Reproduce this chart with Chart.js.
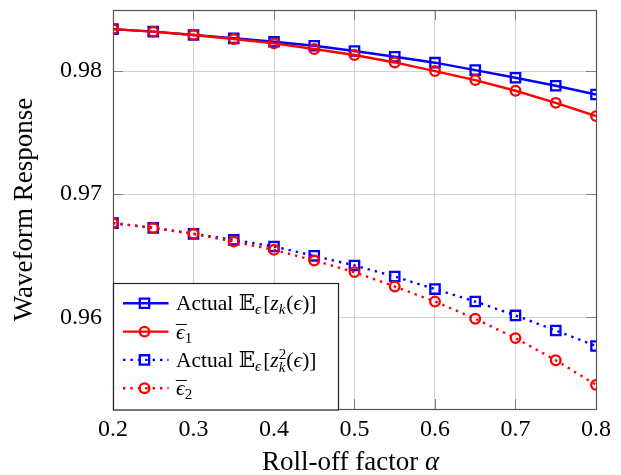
<!DOCTYPE html>
<html><head><meta charset="utf-8">
<script src="https://cdn.jsdelivr.net/npm/chart.js@4.4.1/dist/chart.umd.min.js"></script>
<style>html,body{margin:0;padding:0;background:#fff;}#wrap{width:621px;height:475px;}</style>
</head><body><div id="wrap"><canvas id="c" width="621" height="475"></canvas></div>
<script>
// ---- data ----
const alpha    = [0.2,0.25,0.3,0.35,0.4,0.45,0.5,0.55,0.6,0.65,0.7,0.75,0.8];
const actualZ  = [0.98341,0.98320,0.98293,0.98266,0.98238,0.98206,0.98163,0.98116,0.98068,0.98008,0.97946,0.97881,0.97810];
const epsBar1  = [0.98341,0.98320,0.98293,0.98260,0.98225,0.98179,0.98130,0.98070,0.98000,0.97927,0.97840,0.97742,0.97634];
const actualZ2 = [0.96765,0.96726,0.96678,0.96629,0.96575,0.96499,0.96421,0.96331,0.96229,0.96128,0.96015,0.95893,0.95767];
const epsBar2  = [0.96765,0.96726,0.96678,0.96615,0.96548,0.96461,0.96367,0.96250,0.96128,0.95988,0.95831,0.95651,0.95451];
const xTicks = [0.2,0.3,0.4,0.5,0.6,0.7,0.8];
const yTicks = [0.96,0.97,0.98];
const seriesNames = ['Actual E[z_k]','eps1','Actual E[z_k^2]','eps2'];
const xTitle = ['Roll-off factor ','α'];
const yTitle = 'Waveform Response';

// legend text pieces (math formatting)
const legendRuns = [
  [{t:'Actual '},{t:'𝔼'},{t:'ϵ',it:1,s:0.7,dy:4},{t:'[',dx:2},{t:'z',it:1},{t:'k',it:1,s:0.7,dy:4},{t:'(',dx:1},{t:'ϵ',it:1},{t:')]'}],
  [{t:'ϵ',it:1,bar:1},{t:'1',s:0.7,dy:4}],
  [{t:'Actual '},{t:'𝔼'},{t:'ϵ',it:1,s:0.7,dy:4},{t:'[',dx:2},{t:'z',it:1},{t:'2',s:0.7,dy:-8,stay:1},{t:'k',it:1,s:0.7,dy:5},{t:'(',dx:1},{t:'ϵ',it:1},{t:')]'}],
  [{t:'ϵ',it:1,bar:1},{t:'2',s:0.7,dy:4}]
];

const SERIF = "'Liberation Serif','Times New Roman',serif";
const MATH = "'Liberation Serif','DejaVu Serif','DejaVu Sans',serif";
const BLUE = '#0000ff', RED = '#ff0000';
const DOT = [2.4,5];

function drawRuns(ctx, runs, x, y, base){
  let cx = x;
  for (const r of runs){
    const size = base*(r.s||1);
    ctx.font = (r.it?'italic ':'') + size + 'px ' + MATH;
    const w = ctx.measureText(r.t).width;
    const px = cx + (r.dx||0);
    ctx.fillText(r.t, px, y + (r.dy||0));
    if(r.bar){
      ctx.font = size + 'px ' + MATH;
      const mw = ctx.measureText('¯').width;
      ctx.fillText('¯', px + w/2 - mw/2 + 1, y + 1);
    }
    if(!r.stay) cx = px + w;
  }
  return cx - x;
}

const datasets = [
  {label:seriesNames[0], data:alpha.map((a,i)=>({x:a,y:actualZ[i]})),  borderColor:BLUE, pointStyle:'rect',   pointRadius:6.6, borderDash:[], order:3},
  {label:seriesNames[1], data:alpha.map((a,i)=>({x:a,y:epsBar1[i]})),  borderColor:RED,  pointStyle:'circle', pointRadius:4.8, borderDash:[], order:2},
  {label:seriesNames[2], data:alpha.map((a,i)=>({x:a,y:actualZ2[i]})), borderColor:BLUE, pointStyle:'rect',   pointRadius:6.6, borderDash:DOT, order:1},
  {label:seriesNames[3], data:alpha.map((a,i)=>({x:a,y:epsBar2[i]})),  borderColor:RED,  pointStyle:'circle', pointRadius:4.8, borderDash:DOT, order:0}
].map(d=>Object.assign({
  backgroundColor:'rgba(0,0,0,0)', pointBackgroundColor:'rgba(0,0,0,0)',
  pointBorderColor:d.borderColor, borderWidth:2.4, pointBorderWidth:2.3, tension:0, fill:false
}, d));

const framePlugin = {
  id:'frame',
  beforeDatasetsDraw(chart){
    const {ctx, chartArea:a, scales} = chart;
    ctx.save();
    ctx.strokeStyle = '#808080'; ctx.lineWidth = 1;
    const L = 10;
    ctx.beginPath();
    for(const v of yTicks){
      const y = Math.round(scales.y.getPixelForValue(v))+0.5;
      ctx.moveTo(a.left, y); ctx.lineTo(a.left+L, y);
      ctx.moveTo(a.right-L, y); ctx.lineTo(a.right, y);
    }
    for(const v of xTicks){
      const x = Math.round(scales.x.getPixelForValue(v))+0.5;
      ctx.moveTo(x, a.bottom); ctx.lineTo(x, a.bottom-L);
      ctx.moveTo(x, a.top); ctx.lineTo(x, a.top+L);
    }
    ctx.stroke();
    ctx.strokeStyle = '#555'; ctx.lineWidth = 1.2;
    ctx.strokeRect(Math.round(a.left)+0.5, Math.round(a.top)+0.5, Math.round(a.right-a.left), Math.round(a.bottom-a.top));
    ctx.restore();
  },
  afterDraw(chart){
    const {ctx, chartArea:a} = chart;
    ctx.save();
    // x title
    ctx.fillStyle = '#000'; ctx.textBaseline = 'alphabetic';
    ctx.font = '27px ' + SERIF;
    const w1 = ctx.measureText(xTitle[0]).width;
    ctx.font = 'italic 27px ' + SERIF;
    const w2 = ctx.measureText(xTitle[1]).width;
    const cx = (a.left+a.right)/2 - 4;
    let x0 = cx - (w1+w2)/2;
    ctx.font = '27px ' + SERIF; ctx.fillText(xTitle[0], x0, 470);
    ctx.font = 'italic 27px ' + SERIF; ctx.fillText(xTitle[1], x0+w1, 470);

    // legend
    const lw = 225, lh = 126.5;
    const lx = Math.round(a.left)+0.5, ly = Math.round(a.bottom - lh)+0.5;
    ctx.fillStyle = '#fff';
    ctx.fillRect(lx, ly, lw, lh);
    ctx.strokeStyle = '#222'; ctx.lineWidth = 1.2;
    ctx.strokeRect(lx, ly, lw, lh);
    chart.data.datasets.forEach((d,i)=>{
      const yc = ly + 19.8 + i*28.3;
      ctx.save();
      ctx.strokeStyle = d.borderColor; ctx.lineWidth = 2.4;
      ctx.setLineDash(d.borderDash);
      ctx.beginPath(); ctx.moveTo(lx+9.5, yc); ctx.lineTo(lx+55, yc); ctx.stroke();
      ctx.setLineDash([]);
      ctx.lineWidth = 2.3;
      ctx.fillStyle = 'rgba(0,0,0,0)';
      Chart.helpers.drawPoint(ctx, {pointStyle:d.pointStyle, radius:d.pointRadius, rotation:0, borderWidth:2.3}, lx+31, yc);
      ctx.restore();
      ctx.fillStyle = '#000'; ctx.textBaseline = 'alphabetic';
      drawRuns(ctx, legendRuns[i], lx+62.5, yc+7, 21.5);
    });
    ctx.restore();
  }
};

new Chart(document.getElementById('c'), {
  type:'line',
  data:{datasets},
  plugins:[framePlugin],
  options:{
    responsive:false, animation:false,
    layout:{padding:{top:10,right:25,left:0,bottom:0}},
    plugins:{legend:{display:false}, tooltip:{enabled:false}},
    scales:{
      x:{type:'linear', min:0.2, max:0.8,
        afterBuildTicks:s=>{s.ticks = xTicks.map(v=>({value:v}));},
        afterFit:s=>{s.height = 66; s.paddingLeft = 0; s.paddingRight = 0;},
        ticks:{callback:v=>Number(v).toFixed(1), font:{family:SERIF,size:24}, color:'#000', padding:6, maxRotation:0, autoSkip:false},
        grid:{color:'#d2d2d2', lineWidth:1, drawTicks:false},
        border:{display:false}
      },
      y:{type:'linear', min:0.95255, max:0.98496,
        afterBuildTicks:s=>{s.ticks = yTicks.map(v=>({value:v}));},
        afterFit:s=>{s.width = 113; s.paddingTop = 0; s.paddingBottom = 0;},
        ticks:{callback:v=>Number(v).toFixed(2), font:{family:SERIF,size:24}, color:'#000', padding:11, autoSkip:false},
        grid:{color:'#d2d2d2', lineWidth:1, drawTicks:false},
        border:{display:false},
        title:{display:true, text:yTitle, font:{family:SERIF,size:27,lineHeight:1}, color:'#000', padding:{top:11,bottom:0}}
      }
    }
  }
});
</script></body></html>
